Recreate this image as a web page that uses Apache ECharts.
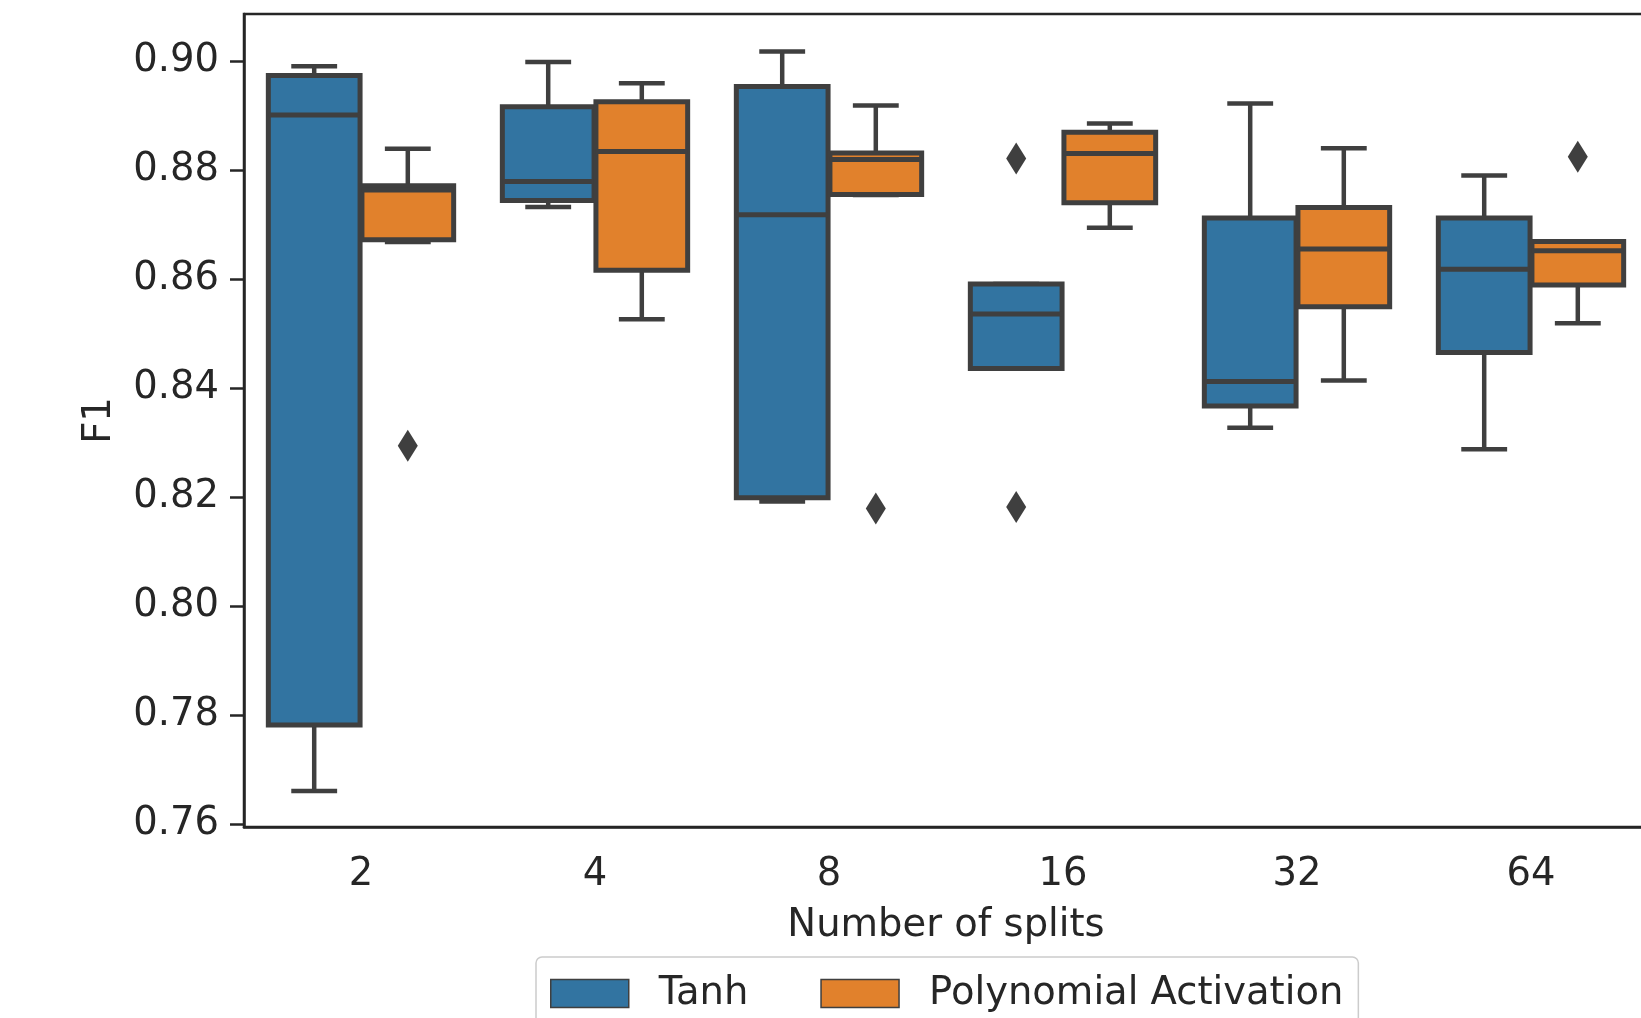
<!DOCTYPE html>
<html>
<head>
<meta charset="utf-8">
<script src="https://cdn.jsdelivr.net/npm/echarts@6/dist/echarts.min.js"></script>
<style>
html, body { margin: 0; padding: 0; background: #fff; }
#chart { width: 1641px; height: 1018px; }
</style>
</head>
<body>
<div id="chart"></div>
<script>
// categories and y ticks
var splits = ['2', '4', '8', '16', '32', '64'];
var yTicks = [0.76, 0.78, 0.80, 0.82, 0.84, 0.86, 0.88, 0.90];

// box stats per split: [min, q1, median, q3, max]
var tanhBoxes = [
	[0.7661, 0.7782, 0.8901, 0.8973, 0.8990],
	[0.8732, 0.8744, 0.8779, 0.8916, 0.8998],
	[0.8192, 0.8199, 0.8718, 0.8953, 0.9017],
	[0.8436, 0.8436, 0.8536, 0.8591, 0.8591],
	[0.8327, 0.8367, 0.8412, 0.8712, 0.8922],
	[0.8288, 0.8465, 0.8618, 0.8712, 0.8790]
];
var polyBoxes = [
	[0.8668, 0.8672, 0.8763, 0.8771, 0.8839],
	[0.8526, 0.8616, 0.8834, 0.8925, 0.8959],
	[0.8754, 0.8755, 0.8819, 0.8831, 0.8918],
	[0.8694, 0.8740, 0.8830, 0.8869, 0.8885],
	[0.8414, 0.8549, 0.8655, 0.8731, 0.8840],
	[0.8519, 0.8589, 0.8652, 0.8669, 0.8669]
];
// outliers: [split index, value]
var tanhOutliers = [[3, 0.8821], [3, 0.8182]];
var polyOutliers = [[0, 0.8294], [2, 0.8179], [5, 0.8824]];

var tanhColor = '#3274a1';
var polyColor = '#e1812c';
var lineColor = '#3f3f3f';
var textColor = '#262626';
var font = 'DejaVu Sans';
var fontSize = 38.5;

function withIndex(boxes) {
	var out = [];
	for (var i = 0; i < boxes.length; i++) {
		out.push([i].concat(boxes[i]));
	}
	return out;
}

// seaborn-like box: hue offset of 0.2 band, width 0.4 band
function boxRender(side, color) {
	return function (params, api) {
		var cat = api.value(0);
		var band = api.size([1, 0])[0];
		var x = api.coord([cat, 0.8])[0] + side * band * 0.2;
		var bw = band * 0.4 * 0.98;
		var yMin = api.coord([cat, api.value(1)])[1];
		var yQ1 = api.coord([cat, api.value(2)])[1];
		var yMed = api.coord([cat, api.value(3)])[1];
		var yQ3 = api.coord([cat, api.value(4)])[1];
		var yMax = api.coord([cat, api.value(5)])[1];
		var capW = bw / 4;
		var ls = { stroke: lineColor, lineWidth: 4.5, fill: null };
		return {
			type: 'group',
			children: [
				{ type: 'line', shape: { x1: x, y1: yMax, x2: x, y2: yQ3 }, style: ls },
				{ type: 'line', shape: { x1: x, y1: yQ1, x2: x, y2: yMin }, style: ls },
				{ type: 'line', shape: { x1: x - capW, y1: yMax, x2: x + capW, y2: yMax }, style: ls },
				{ type: 'line', shape: { x1: x - capW, y1: yMin, x2: x + capW, y2: yMin }, style: ls },
				{ type: 'rect', shape: { x: x - bw / 2, y: yQ3, width: bw, height: yQ1 - yQ3 },
					style: { fill: color, stroke: lineColor, lineWidth: 5 } },
				{ type: 'line', shape: { x1: x - bw / 2, y1: yMed, x2: x + bw / 2, y2: yMed },
					style: { stroke: lineColor, lineWidth: 5 } }
			]
		};
	};
}

function outlierRender(side) {
	return function (params, api) {
		var band = api.size([1, 0])[0];
		var p = api.coord([api.value(0), api.value(1)]);
		var cx = p[0] + side * band * 0.2;
		var cy = p[1];
		return {
			type: 'polygon',
			shape: { points: [[cx, cy - 16], [cx + 10, cy], [cx, cy + 16], [cx - 10, cy]] },
			style: { fill: lineColor }
		};
	};
}

var myChart = echarts.init(document.getElementById('chart'), null, { renderer: 'canvas' });
var option = {
	backgroundColor: '#fff',
	animation: false,
	grid: {
		left: 244, top: 14, width: 1404, height: 813,
		show: true, borderColor: textColor, borderWidth: 2.5,
		outerBoundsMode: 'none'
	},
	legend: {
		left: 536, top: 957,
		padding: [17, 15, 17, 14],
		itemWidth: 78, itemHeight: 28, itemGap: 72,
		borderColor: '#cccccc', borderWidth: 1.5, borderRadius: 6,
		backgroundColor: '#fff',
		textStyle: { fontSize: fontSize, color: textColor, fontFamily: font, padding: [0, 0, 0, 25] },
		data: [
			{ name: 'Tanh', icon: 'rect', itemStyle: { color: tanhColor, borderColor: lineColor, borderWidth: 1.5 } },
			{ name: 'Polynomial Activation', icon: 'rect', itemStyle: { color: polyColor, borderColor: lineColor, borderWidth: 1.5 } }
		]
	},
	xAxis: {
		type: 'category',
		data: splits,
		boundaryGap: true,
		name: 'Number of splits',
		nameLocation: 'middle',
		nameGap: 79,
		nameTextStyle: { fontSize: fontSize, color: textColor, fontFamily: font },
		axisLine: { lineStyle: { color: textColor, width: 2.5 } },
		axisTick: { alignWithLabel: true, length: 13, lineStyle: { color: textColor, width: 2.5 } },
		axisLabel: { fontSize: fontSize, color: textColor, fontFamily: font, margin: 28 },
		splitLine: { show: false }
	},
	yAxis: {
		type: 'value',
		min: 0.7595,
		max: 0.9086,
		name: 'F1',
		nameLocation: 'middle',
		nameGap: 125,
		nameTextStyle: { fontSize: fontSize, color: textColor, fontFamily: font },
		axisLine: { show: true, lineStyle: { color: textColor, width: 2.5 } },
		axisTick: { show: true, length: 14, customValues: yTicks, lineStyle: { color: textColor, width: 2.5 } },
		axisLabel: {
			fontSize: fontSize, color: textColor, fontFamily: font, margin: 25,
			padding: [11, 0, 0, 0],
			customValues: yTicks,
			formatter: function (v) { return v.toFixed(2); }
		},
		splitLine: { show: false }
	},
	series: [
		{
			name: 'Tanh', type: 'custom',
			itemStyle: { color: tanhColor },
			renderItem: boxRender(-1, tanhColor),
			encode: { x: 0, y: [1, 2, 3, 4, 5] },
			data: withIndex(tanhBoxes)
		},
		{
			name: 'Polynomial Activation', type: 'custom',
			itemStyle: { color: polyColor },
			renderItem: boxRender(1, polyColor),
			encode: { x: 0, y: [1, 2, 3, 4, 5] },
			data: withIndex(polyBoxes)
		},
		{
			name: 'Tanh', type: 'custom',
			itemStyle: { color: tanhColor },
			renderItem: outlierRender(-1),
			encode: { x: 0, y: 1 },
			data: tanhOutliers
		},
		{
			name: 'Polynomial Activation', type: 'custom',
			itemStyle: { color: polyColor },
			renderItem: outlierRender(1),
			encode: { x: 0, y: 1 },
			data: polyOutliers
		}
	]
};
myChart.setOption(option);
</script>
</body>
</html>
